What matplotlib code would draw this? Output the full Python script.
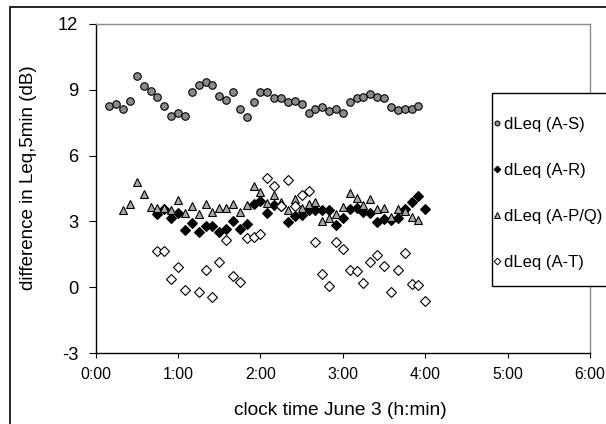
import matplotlib
matplotlib.use("Agg")
import matplotlib.pyplot as plt
from matplotlib.lines import Line2D
from matplotlib.patches import Rectangle
import numpy as np

plt.rcParams['font.family'] = ['Liberation Sans', 'DejaVu Sans']
plt.rcParams['axes.unicode_minus'] = False

# ---- data (clock time in minutes after 0:00, values in dB) ----
t_as = [10, 15, 20, 25, 30, 35, 40, 45, 50, 55, 60, 65, 70, 75, 80, 85, 90, 95, 100, 105,
        110, 115, 120, 125, 130, 135, 140, 145, 150, 155, 160, 165, 170, 175, 180, 185, 190,
        195, 200, 205, 210, 215, 220, 225, 230, 235]
v_as = [8.26, 8.37, 8.13, 8.49, 9.65, 9.19, 8.96, 8.67, 8.26, 7.80, 7.96, 7.80, 8.90, 9.24,
        9.37, 9.24, 8.73, 8.53, 8.90, 8.13, 7.74, 8.43, 8.90, 8.90, 8.61, 8.61, 8.44, 8.51,
        8.33, 7.92, 8.14, 8.22, 8.04, 8.14, 7.96, 8.44, 8.61, 8.69, 8.79, 8.69, 8.61, 8.22,
        8.08, 8.14, 8.14, 8.28]

t_ar = [45, 50, 55, 60, 65, 70, 75, 80, 85, 90, 95, 100, 105, 110, 115, 120, 125, 130, 135,
        140, 145, 150, 155, 160, 165, 170, 175, 180, 185, 190, 195, 200, 205, 210, 215, 220,
        225, 230, 235, 240]
v_ar = [3.32, 3.55, 3.17, 3.39, 2.59, 2.94, 2.53, 2.77, 2.77, 2.53, 2.64, 3.01, 2.64, 2.86,
        3.80, 3.92, 3.39, 3.77, 3.70, 2.97, 3.24, 3.29, 3.51, 3.51, 3.51, 3.50, 2.82, 3.17,
        3.57, 3.62, 3.45, 3.39, 2.97, 3.12, 3.06, 3.17, 3.57, 3.87, 4.14, 3.57]

t_apq = [20, 25, 30, 35, 40, 45, 50, 55, 60, 65, 70, 75, 80, 85, 90, 95, 100, 105, 110, 115,
         120, 125, 130, 135, 140, 145, 150, 155, 160, 165, 170, 175, 180, 185, 190, 195, 200,
         205, 210, 215, 220, 225, 230, 235]
v_apq = [3.50, 3.80, 4.78, 4.25, 3.67, 3.60, 3.63, 3.54, 3.96, 3.39, 3.69, 3.36, 3.80, 3.45,
         3.60, 3.60, 3.80, 3.45, 3.76, 4.63, 4.33, 3.85, 4.21, 3.87, 3.51, 4.03, 3.60, 3.81,
         3.87, 3.00, 3.17, 3.36, 3.67, 4.30, 4.07, 3.77, 4.00, 3.57, 3.62, 3.18, 3.57, 3.47,
         3.21, 3.06]

t_at = [45, 50, 55, 60, 65, 75, 80, 85, 90, 95, 100, 105, 110, 115, 120, 125, 130, 135, 140,
        145, 150, 155, 160, 165, 170, 175, 180, 185, 190, 195, 200, 205, 210, 215, 220, 225,
        230, 235, 240]
v_at = [1.66, 1.66, 0.38, 0.90, -0.15, -0.20, 0.80, -0.43, 1.13, 2.14, 0.51, 0.23, 2.26,
        2.29, 2.41, 4.98, 4.63, 3.69, 4.90, 3.69, 4.22, 4.37, 2.08, 0.60, 0.05, 2.08, 1.73,
        0.80, 0.72, 0.19, 1.13, 1.48, 0.98, -0.20, 0.80, 1.55, 0.15, 0.10, -0.61]

labels = ['dLeq (A-S)', 'dLeq (A-R)', 'dLeq (A-P/Q)', 'dLeq (A-T)']
x_ticks = [0, 1, 2, 3, 4, 5, 6]
x_ticklabels = ['0:00', '1:00', '2:00', '3:00', '4:00', '5:00', '6:00']
y_ticks = [-3, 0, 3, 6, 9, 12]

W, H = 606, 424
fig = plt.figure(figsize=(W / 100, H / 100), dpi=100)
fig.patch.set_facecolor('white')

def fx(px):
    return px / W

def fy(py):
    return 1 - py / H

ax = fig.add_axes([fx(95.7), fy(353), fx(590) - fx(95.7), fy(24) - fy(353)])

hours = lambda t: np.asarray(t) / 60.0

ax.plot(hours(t_as), v_as, linestyle='none', marker='o', markersize=5.4,
        markerfacecolor='#8a8a8a', markeredgecolor='black', markeredgewidth=0.8, zorder=3)
ax.plot(hours(t_ar), v_ar, linestyle='none', marker='D', markersize=5.0,
        markerfacecolor='black', markeredgecolor='black', markeredgewidth=0.8, zorder=3)
ax.plot(hours(t_apq), v_apq, linestyle='none', marker='^', markersize=6.4,
        markerfacecolor='#a8a8a8', markeredgecolor='black', markeredgewidth=0.8, zorder=3)
ax.plot(hours(t_at), v_at, linestyle='none', marker='D', markersize=5.0,
        markerfacecolor='white', markeredgecolor='black', markeredgewidth=0.8, zorder=3)

ax.set_xlim(0, 6)
ax.set_ylim(-3, 12)
ax.set_xticks(x_ticks)
ax.set_xticklabels(x_ticklabels)
ax.set_yticks(y_ticks)
ax.tick_params(axis='x', direction='out', length=3.6, width=0.8, pad=6.5, labelsize=11.4)
ax.tick_params(axis='y', direction='out', length=5.2, width=0.8, pad=7.5, labelsize=13.2)

for s in ['left', 'bottom']:
    ax.spines[s].set_color('black')
    ax.spines[s].set_linewidth(1.0)
for s in ['top', 'right']:
    ax.spines[s].set_color('#8c8c8c')
    ax.spines[s].set_linewidth(1.0)

ax.set_xlabel('clock time June 3 (h:min)', fontsize=13.8)
ax.set_ylabel('difference in Leq,5min (dB)', fontsize=13.5)
ax.xaxis.set_label_coords((340 - 95.7) / (590 - 95.7), (353 - 402) / 329.0)
ax.yaxis.set_label_coords((37 - 95.7) / (590 - 95.7), (353 - 177.5) / 329.0)

# outer frame
frame = Rectangle((fx(9.5), fy(440)), fx(700), fy(7) - fy(440), transform=fig.transFigure,
                  facecolor='none', edgecolor='black', linewidth=1.2, zorder=10)
fig.add_artist(frame)

# legend box
lbox = Rectangle((fx(491.7), fy(286)), fx(640) - fx(491.7), fy(92.7) - fy(286),
                 transform=fig.transFigure, facecolor='white', edgecolor='black',
                 linewidth=1.0, zorder=3)
fig.add_artist(lbox)

handles = [
    Line2D([], [], linestyle='none', marker='o', markersize=3.6, markerfacecolor='#8a8a8a',
           markeredgecolor='black', markeredgewidth=0.7),
    Line2D([], [], linestyle='none', marker='D', markersize=3.4, markerfacecolor='black',
           markeredgecolor='black', markeredgewidth=0.7),
    Line2D([], [], linestyle='none', marker='^', markersize=4.2, markerfacecolor='#a8a8a8',
           markeredgecolor='black', markeredgewidth=0.7),
    Line2D([], [], linestyle='none', marker='D', markersize=3.4, markerfacecolor='white',
           markeredgecolor='black', markeredgewidth=0.7),
]
leg = fig.legend(handles, labels, loc='upper left', bbox_to_anchor=(fx(492.5), fy(117)),
                 frameon=False, borderpad=0, handlelength=0.5, handletextpad=0.2,
                 labelspacing=1.85, fontsize=12, borderaxespad=0)
leg.set_zorder(5)

fig.savefig('out.png', dpi=100, facecolor='white')
